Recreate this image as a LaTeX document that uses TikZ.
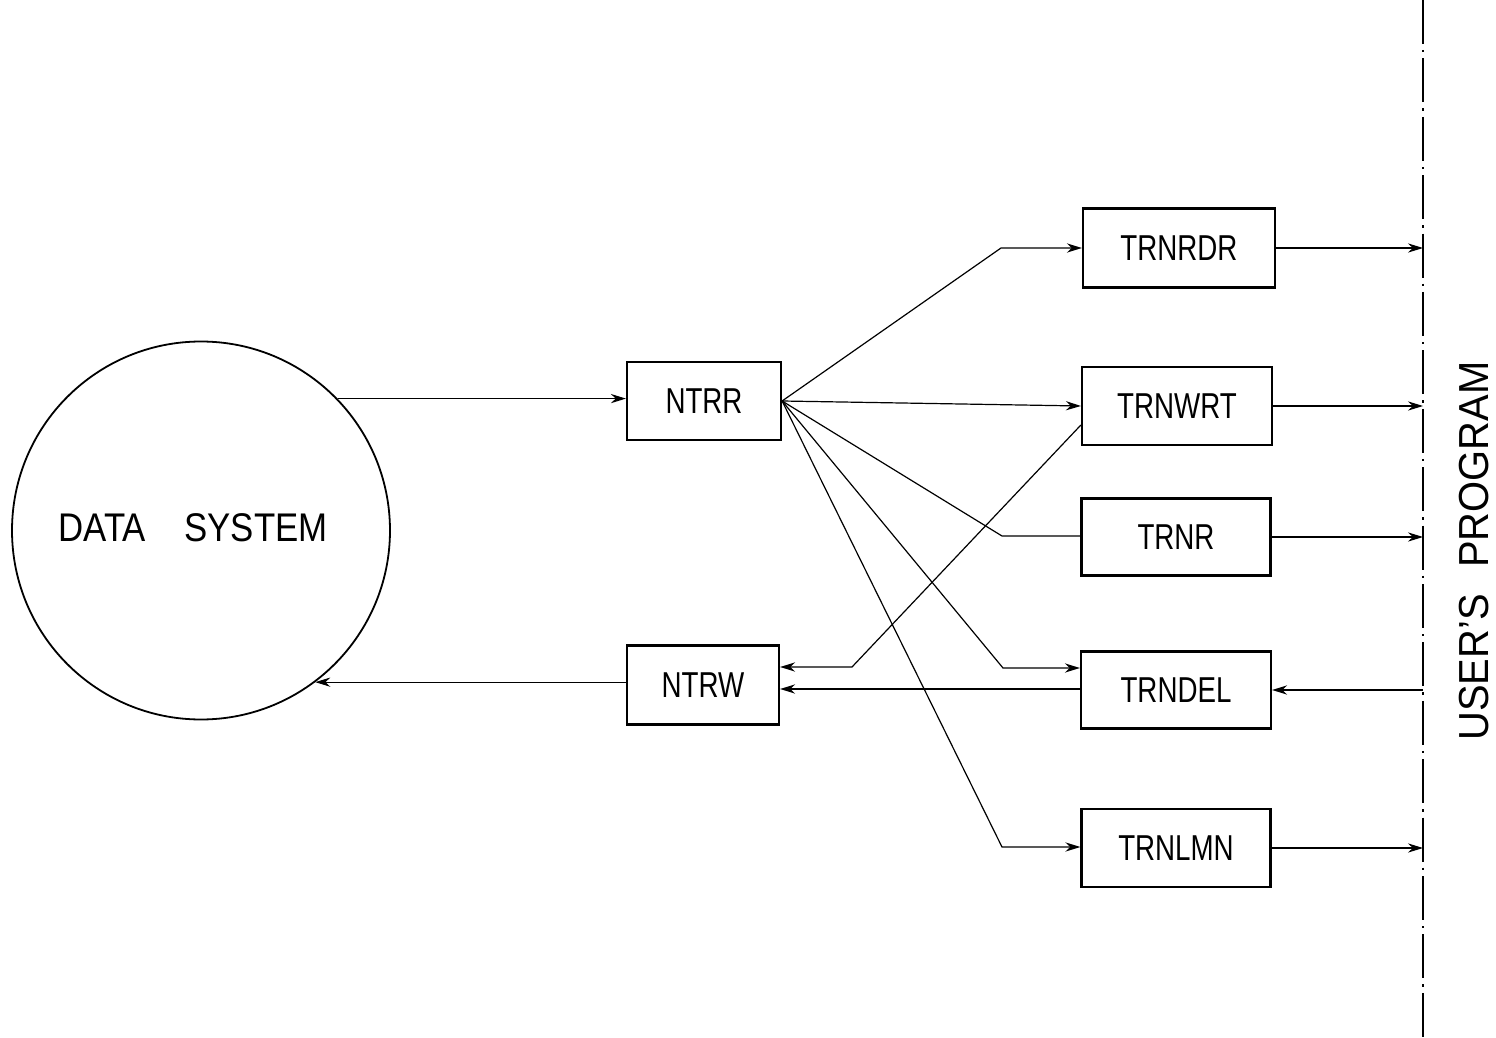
\documentclass[tikz,border=0pt]{standalone}
\usepackage{fontspec}
\setmainfont{Liberation Sans}
\usepackage{graphicx}
\usetikzlibrary{arrows.meta,calc}
\begin{document}
\begin{tikzpicture}[x=0.5pt,y=-0.5pt,
  box/.style={draw,line width=1.1pt,inner sep=0pt,font=\fontsize{18}{18}\selectfont},
  conn/.style={line width=0.6pt},
  arr/.style={conn,-{Stealth[length=7.5pt,width=4.6pt]}},
  usrline/.style={line width=1pt,dash pattern=on 22pt off 3pt on 1.2pt off 3pt}
]
\useasboundingbox (0,0) rectangle (1496,1038);
% data system
\node[draw,circle,line width=0.9pt,minimum size=189pt,inner sep=0pt] (ds) at (201,530.5) {};
\node[font=\fontsize{20}{20}\selectfont] (dslbl) at (193,528) {\scalebox{0.87}[1]{DATA\hspace{22pt}SYSTEM}};
% boxes
\node[box,minimum width=77pt,minimum height=39pt] (NTRR) at (704,401) {\scalebox{0.77}[1]{NTRR}};
\node[box,minimum width=76pt,minimum height=39.5pt] (NTRW) at (703,685) {\scalebox{0.77}[1]{NTRW}};
\node[box,minimum width=96pt,minimum height=39.5pt] (TRNRDR) at (1179,248) {\scalebox{0.77}[1]{TRNRDR}};
\node[box,minimum width=95pt,minimum height=39pt] (TRNWRT) at (1177,406) {\scalebox{0.77}[1]{TRNWRT}};
\node[box,minimum width=94.5pt,minimum height=38.5pt] (TRNR) at (1176,537) {\scalebox{0.77}[1]{TRNR}};
\node[box,minimum width=95pt,minimum height=38.5pt] (TRNDEL) at (1176,690) {\scalebox{0.77}[1]{TRNDEL}};
\node[box,minimum width=94.5pt,minimum height=39pt] (TRNLMN) at (1176,848) {\scalebox{0.77}[1]{TRNLMN}};
% user's program line
\coordinate (up) at (1423,0);
\coordinate (down) at (1423,1038);
\draw[usrline] (up) -- (down);
\node[rotate=90,font=\fontsize{21}{21}\selectfont] (uplbl) at (1474,551) {\scalebox{0.95}[1]{USER'S\hspace{14pt}PROGRAM}};
% bend points
\coordinate (b1) at (1001,248);
\coordinate (b3) at (1002,536);
\coordinate (b4) at (1003,668);
\coordinate (b5) at (1002,847);
\coordinate (w1) at (852,667);
\coordinate (wy) at (0,425);
\coordinate (dl) at (0,689);
\coordinate (w0) at (TRNWRT.west |- wy);
% data system <-> NTRR / NTRW
\draw[arr] (ds.44) -- (NTRR.west |- ds.44);
\draw[arr] (NTRW.west |- ds.-53.5) -- (ds.-53.5);
% fan from NTRR
\draw[arr] (NTRR.east) -- (b1) -- (TRNRDR.west);
\draw[arr] (NTRR.east) -- (TRNWRT.west);
\draw[conn] (NTRR.east) -- (b3) -- (b3 -| TRNR.west);
\draw[arr] (NTRR.east) -- (b4) -- (b4 -| TRNDEL.west);
\draw[arr] (NTRR.east) -- (b5) -- (b5 -| TRNLMN.west);
% into NTRW
\draw[arr] (w0) -- (w1) -- (w1 -| NTRW.east);
\draw[arr] (TRNDEL.west |- dl) -- (NTRW.east |- dl);
% to / from user's program
\draw[arr] (TRNRDR.east) -- (TRNRDR.east -| up);
\draw[arr] (TRNWRT.east) -- (TRNWRT.east -| up);
\draw[arr] (TRNR.east) -- (TRNR.east -| up);
\draw[arr] (TRNLMN.east) -- (TRNLMN.east -| up);
\draw[arr] (TRNDEL.east -| up) -- (TRNDEL.east);
\end{tikzpicture}
\end{document}
